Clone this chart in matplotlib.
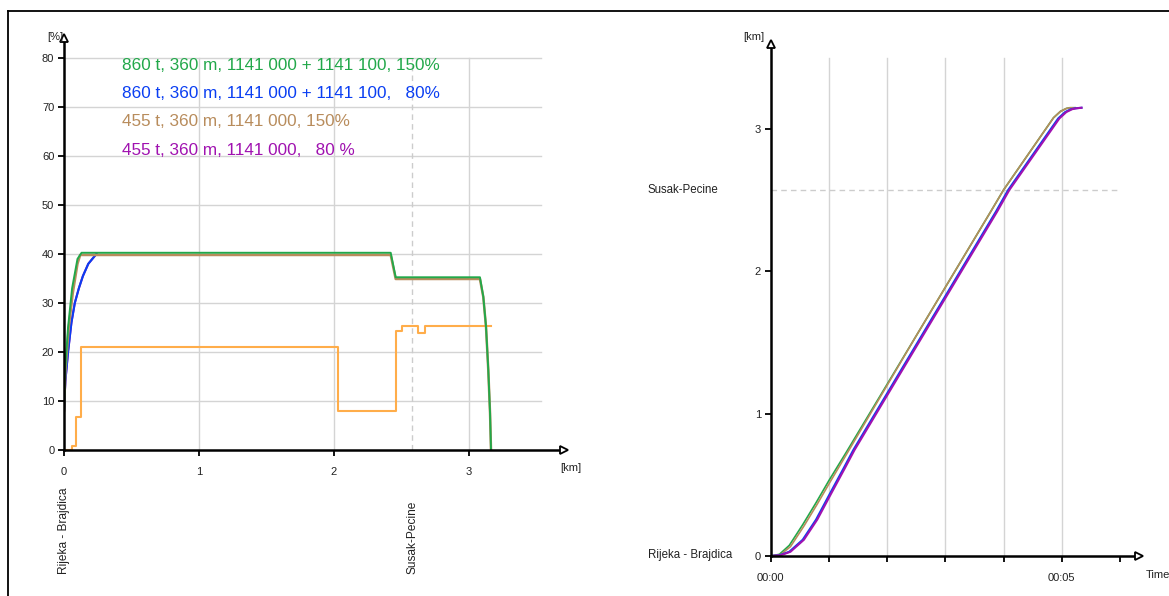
import numpy as np
import matplotlib
matplotlib.use("Agg")
import matplotlib.pyplot as plt
from matplotlib.lines import Line2D

plt.rcParams['font.family'] = ['Liberation Sans', 'DejaVu Sans']

# Legend labels and colours
labels = ['860 t, 360 m, 1141 000 + 1141 100, 150%',
          '860 t, 360 m, 1141 000 + 1141 100,   80%',
          '455 t, 360 m, 1141 000, 150%',
          '455 t, 360 m, 1141 000,   80 %']
colors = ['#22a84a', '#0a3ef2', '#b88c5c', '#a012b0']
orange = '#ffad4a'

# Left chart: speed [%] vs distance [km]
green_km = [0, 0.005, 0.03, 0.06, 0.10, 0.13, 2.42, 2.457, 3.081, 3.106, 3.126, 3.143, 3.156, 3.163]
green_v = [7, 15, 25, 33, 39.0, 40.25, 40.25, 35.25, 35.25, 31.3, 25.2, 16.3, 7.5, 0]
tan_km = [0, 0.01, 0.035, 0.065, 0.10, 0.12, 2.42, 2.457, 3.081, 3.106, 3.126, 3.143, 3.156, 3.163]
tan_v = [8, 16, 25, 32, 38, 39.8, 39.8, 34.9, 34.9, 31.2, 25.1, 16.2, 7.4, 0]
blue_km = [0, 0.01, 0.03, 0.055, 0.08, 0.11, 0.14, 0.18, 0.24]
blue_v = [8, 14, 20, 26, 30, 33, 35.5, 38, 40]
purple_km = blue_km
purple_v = blue_v
# gradient-like step profile (orange)
step_km = [0, 0.057, 0.087, 0.124, 2.027, 2.457, 2.50, 2.62, 2.674, 3.163]
step_v = [0, 0.9, 6.8, 21.0, 8.0, 24.3, 25.3, 23.9, 25.3, 25.3]
station_km = 2.58

# Right chart: distance [km] vs time [min]
green_t = [0, 0.15, 0.32, 0.55, 0.78, 1.0, 1.3, 2.5, 3.78, 4.0, 4.86, 4.98, 5.08, 5.14, 5.23]
green_d = [0, 0.012, 0.075, 0.22, 0.375, 0.53, 0.73, 1.547, 2.42, 2.572, 3.08, 3.125, 3.145, 3.15, 3.15]
tan_t = [0, 0.17, 0.34, 0.57, 0.80, 1.02, 1.31, 2.5, 3.78, 4.0, 4.86, 4.98, 5.08, 5.14, 5.23]
tan_d = [0, 0.01, 0.066, 0.21, 0.365, 0.52, 0.72, 1.547, 2.42, 2.572, 3.08, 3.125, 3.145, 3.15, 3.15]
blue_t = [0, 0.15, 0.32, 0.55, 0.78, 1.015, 1.25, 1.42, 2.5, 3.87, 4.08, 4.94, 5.06, 5.16, 5.23, 5.34]
blue_d = [0, 0.005, 0.03, 0.114, 0.256, 0.436, 0.614, 0.745, 1.484, 2.42, 2.572, 3.075, 3.12, 3.14, 3.146, 3.15]
purple_t = [0, 0.17, 0.34, 0.57, 0.80, 1.035, 1.27, 1.44, 2.52, 3.89, 4.10, 4.96, 5.08, 5.18, 5.25, 5.34]
purple_d = blue_d
station_d = 2.572

W, H = 1169, 596
fig = plt.figure(figsize=(W / 100, H / 100), dpi=100)


def px_axes(x0, y0, x1, y1):
    # axes from pixel box (left, bottom y, right, top y)
    return fig.add_axes([x0 / W, 1 - y0 / H, (x1 - x0) / W, (y0 - y1) / H])


def ftext(x, y, s, **kw):
    fig.text(x / W, 1 - y / H, s, **kw)


def style_axes(ax):
    for s in ax.spines.values():
        s.set_visible(False)
    ax.tick_params(length=4, width=1.3, labelsize=8, pad=3, color='black', labelcolor='#222222')
    ax.tick_params(axis='x', pad=8)


# ---------- left chart ----------
ax1 = px_axes(64, 450, 567, 35)
ax1.set_xlim(0, (567 - 64) / 135)
ax1.set_ylim(0, (450 - 35) / 4.9)
style_axes(ax1)
for v in range(10, 90, 10):
    ax1.plot([0, 3.53], [v, v], color='#d4d4d4', lw=1, zorder=1)
for k in [1, 2, 3]:
    ax1.plot([k, k], [0, 80], color='#d4d4d4', lw=1, zorder=1)
ax1.plot([station_km, station_km], [0, 80], color='#cccccc', lw=1, ls=(0, (4, 3)), zorder=1)

ax1.step(step_km, step_v, where='post', color=orange, lw=1.5, zorder=3)
ax1.plot(purple_km, purple_v, color=colors[3], lw=1.5, zorder=3)
ax1.plot(blue_km, blue_v, color=colors[1], lw=1.5, zorder=4)
ax1.plot(tan_km, tan_v, color=colors[2], lw=1.8, zorder=5)
ax1.plot(green_km, green_v, color=colors[0], lw=1.4, zorder=6)

ax1.set_yticks(range(0, 90, 10))
ax1.set_xticks([0, 1, 2, 3])
ax1.set_xticklabels(['0', '1', '2', '3'])
ax1.plot([0, 3.70], [0, 0], color='black', lw=1.8, clip_on=False, zorder=7)
ax1.plot([0, 0], [0, 84.0], color='black', lw=1.8, clip_on=False, zorder=7)
ax1.plot([3.70], [0], marker='>', ms=6, mfc='white', mec='black', mew=1.3, clip_on=False, zorder=8)
ax1.plot([0], [84.0], marker='^', ms=6, mfc='white', mec='black', mew=1.3, clip_on=False, zorder=8)

ftext(63, 37, '[%]', ha='right', va='center', fontsize=8, color='#222222')
ftext(571, 468, '[km]', ha='center', va='center', fontsize=8, color='#222222')
ftext(64.5, 574, 'Rijeka - Brajdica', rotation=90, ha='center', va='bottom', fontsize=8.6, color='#222222')
ftext(412, 574, 'Susak-Pecine', rotation=90, ha='center', va='bottom', fontsize=8.6, color='#222222')

for i, (lab, c) in enumerate(zip(labels, colors)):
    ftext(122, 65 + i * 28.5, lab, color=c, ha='left', va='center', fontsize=12.3)

# ---------- right chart ----------
ax2 = px_axes(770.7, 556, 1143, 35)
ax2.set_xlim(0, (1143 - 770.7) / 58.2)
ax2.set_ylim(0, (556 - 35) / 142.3)
style_axes(ax2)
for m in range(1, 6):
    ax2.plot([m, m], [0, 3.5], color='#d4d4d4', lw=1, zorder=1)
ax2.plot([0, 6.0], [station_d, station_d], color='#cccccc', lw=1, ls=(0, (4, 3)), zorder=1)

ax2.plot(green_t, green_d, color=colors[0], lw=1.2, zorder=3)
ax2.plot(tan_t, tan_d, color=colors[2], lw=1.2, zorder=4)
ax2.plot(blue_t, blue_d, color=colors[1], lw=1.5, zorder=5)
ax2.plot(purple_t, purple_d, color=colors[3], lw=1.5, zorder=6)

ax2.set_yticks([0, 1, 2, 3])
ax2.set_xticks(range(0, 7))
ax2.set_xticklabels(['00:00', '', '', '', '', '00:05', ''])
ax2.plot([0, 6.33], [0, 0], color='black', lw=1.8, clip_on=False, zorder=7)
ax2.plot([0, 0], [0, 3.60], color='black', lw=1.8, clip_on=False, zorder=7)
ax2.plot([6.33], [0], marker='>', ms=6, mfc='white', mec='black', mew=1.3, clip_on=False, zorder=8)
ax2.plot([0], [3.60], marker='^', ms=6, mfc='white', mec='black', mew=1.3, clip_on=False, zorder=8)

ftext(764, 37, '[km]', ha='right', va='center', fontsize=8, color='#222222')
ftext(1146, 575, 'Time', ha='left', va='center', fontsize=8, color='#222222')
ftext(648, 190, 'Susak-Pecine', ha='left', va='center', fontsize=8.3, color='#222222')
ftext(648, 555, 'Rijeka - Brajdica', ha='left', va='center', fontsize=8.3, color='#222222')

# partial frame (top and left edges)
fig.add_artist(Line2D([8 / W, 8 / W], [0, 1 - 11 / H], color='black', lw=1.3, transform=fig.transFigure))
fig.add_artist(Line2D([8 / W, 1], [1 - 11 / H, 1 - 11 / H], color='black', lw=1.3, transform=fig.transFigure))

fig.savefig('out.png', dpi=100)
